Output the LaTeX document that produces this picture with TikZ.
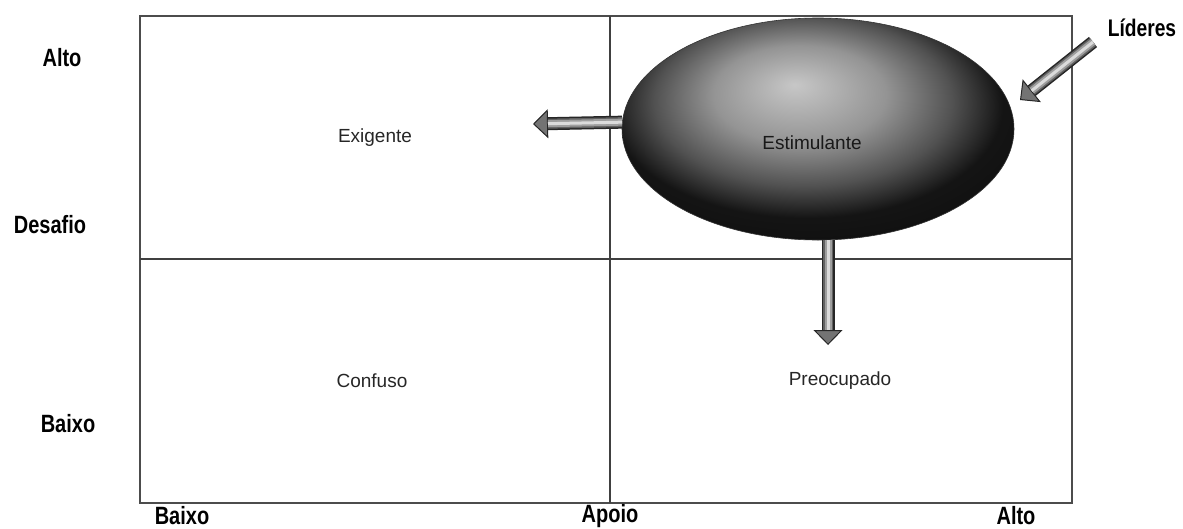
\documentclass[tikz,border=0pt]{standalone}
\usepackage{fontspec}
\setmainfont{Liberation Sans}
\newfontfamily\labfont[FakeStretch=0.8]{Liberation Sans}
\usetikzlibrary{shapes.geometric,arrows.meta,calc}
\pgfdeclareradialshading{ellsh}{\pgfpoint{-3bp}{10bp}}{color(0bp)=(black!22); color(11bp)=(black!42); color(19bp)=(black!68); color(25bp)=(black!92); color(50bp)=(black)}
\tikzset{
  axislabel/.style={font=\labfont\bfseries\fontsize{25}{28}\selectfont, text=black, inner sep=0pt},
  quadlabel/.style={font=\fontsize{19}{22}\selectfont, text=black!85, inner sep=0pt},
  frame/.style={draw=black!70, line width=2pt},
  divider/.style={draw=black!75, line width=1.3pt},
  ellnode/.style={ellipse, draw=black!80, line width=0.6pt, shading=ellsh, minimum width=392pt, minimum height=222pt, inner sep=0pt},
  blockarr/.style={draw=black!85, line width=13pt, line cap=butt,
    -{Triangle[width=29pt,length=15pt,line width=1pt,color=black!85,fill=black!55]},
    postaction={draw=black!62, line width=10pt, -, shorten >=15pt},
    postaction={draw=black!38, line width=7pt, -, shorten >=15pt},
    postaction={draw=black!14, line width=3pt, -, shorten >=15pt}},
}
\begin{document}
\begin{tikzpicture}[x=1pt,y=-1pt]
\useasboundingbox (0,0) rectangle (1183,528);
% frame and dividers
\draw[frame] (140,16) rectangle (1072,503);
\draw[divider] (610,16) -- (610,503);
\draw[divider] (140,259) -- (1072,259);
% axis labels
\node[axislabel] (altoL) at (62,58) {Alto};
\node[axislabel] (desafio) at (50,225) {Desafio};
\node[axislabel] (baixoL) at (68,424) {Baixo};
\node[axislabel] (baixoB) at (182,516) {Baixo};
\node[axislabel] (apoio) at (610,516) {Apoio};
\node[axislabel] (altoB) at (1016,516) {Alto};
\node[axislabel, font=\labfont\bfseries\fontsize{24}{28}\selectfont] (lid) at (1142,28) {Líderes};
% quadrant labels
\node[quadlabel] (exig) at (375,138) {Exigente};
\node[quadlabel] (conf) at (372,381) {Confuso};
\node[quadlabel] (preo) at (840,381) {Preocupado};
% ellipse
\node[ellnode] (ell) at (818,129) {};
\node[quadlabel, text=black!90] (estim) at (812,143) {Estimulante};
% arrow end points
\coordinate (lefttip) at (533,124);
\coordinate (downtip) at (828,345);
\coordinate (lidtail) at (1093,42);
\coordinate (lidtip) at (1020,100);
% arrows
\draw[blockarr] (ell.178.5) -- (lefttip);
\draw[blockarr] (downtip |- ell.south) -- (downtip);
\draw[blockarr] (lidtail) -- (lidtip);
\end{tikzpicture}
\end{document}
